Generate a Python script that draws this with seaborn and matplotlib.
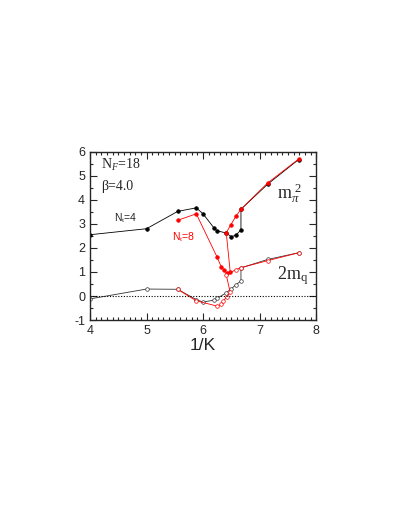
import matplotlib
matplotlib.use("Agg")
import matplotlib.pyplot as plt
import seaborn as sns
import pandas as pd
from matplotlib.ticker import MultipleLocator

# ── Data ─────────────────────────────────────────────────────────────────────
# N_t = 4, m_pi^2 (filled black)
nt4_x_mpi = [4.0, 5.0, 5.55, 5.88, 6.0, 6.2, 6.25, 6.4, 6.5, 6.58, 6.67, 6.67, 7.14, 7.69]
nt4_y_mpi = [2.55, 2.8, 3.52, 3.67, 3.42, 2.81, 2.71, 2.63, 2.47, 2.53, 2.75, 3.61, 4.65, 5.68]
# N_t = 4, 2m_q (open black)
nt4_x_mq = [4.0, 5.0, 5.55, 5.88, 6.0, 6.2, 6.25, 6.4, 6.5, 6.58, 6.67, 6.67, 7.14, 7.69]
nt4_y_mq = [-0.12, 0.29, 0.28, -0.15, -0.25, -0.17, -0.1, 0.12, 0.3, 0.47, 0.62, 1.17, 1.52, 1.8]
# N_t = 8, m_pi^2 (filled red)
nt8_x_mpi = [5.55, 5.88, 6.25, 6.32, 6.37, 6.42, 6.48, 6.41, 6.49, 6.58, 6.67, 7.14, 7.69]
nt8_y_mpi = [3.15, 3.42, 1.61, 1.22, 1.08, 0.95, 1.0, 2.63, 2.96, 3.32, 3.61, 4.7, 5.7]
# N_t = 8, 2m_q (open red)
nt8_x_mq = [5.55, 5.88, 6.25, 6.32, 6.36, 6.42, 6.48, 6.41, 6.58, 6.67, 7.14, 7.69]
nt8_y_mq = [0.28, -0.2, -0.42, -0.35, -0.2, -0.03, 0.15, 0.88, 1.1, 1.18, 1.47, 1.8]

sns.set_style("ticks")
plt.rcParams["font.family"] = ["Liberation Sans", "DejaVu Sans"]
plt.rcParams["axes.unicode_minus"] = False
plt.rcParams["mathtext.fontset"] = "custom"
plt.rcParams["mathtext.rm"] = "Liberation Serif"
plt.rcParams["mathtext.it"] = "Liberation Serif:italic"

fig = plt.figure(figsize=(4.09, 5.29), dpi=100)
ax = fig.add_axes([0.220, 0.395, 0.553, 0.318])

series = [
    (nt4_x_mpi, nt4_y_mpi, "black", "black"),
    (nt4_x_mq, nt4_y_mq, "#333333", "white"),
    (nt8_x_mpi, nt8_y_mpi, "red", "red"),
    (nt8_x_mq, nt8_y_mq, "red", "white"),
]
for xs, ys, col, face in series:
    df = pd.DataFrame({"x": xs, "y": ys})
    sns.lineplot(data=df, x="x", y="y", sort=False, estimator=None, ax=ax,
                 color=col, linewidth=0.6, marker="o", markersize=2.6,
                 markerfacecolor=face, markeredgecolor=col, markeredgewidth=0.5)

ax.axhline(0, color="black", linestyle=(0, (1, 1.5)), linewidth=0.8)

ax.set_xlim(4, 8)
ax.set_ylim(-1, 6)
ax.xaxis.set_major_locator(MultipleLocator(1))
ax.xaxis.set_minor_locator(MultipleLocator(0.1))
ax.yaxis.set_major_locator(MultipleLocator(1))
ax.yaxis.set_minor_locator(MultipleLocator(0.5))
ax.tick_params(which="both", direction="in", top=True, right=True, width=0.8)
ax.tick_params(which="major", length=5, labelsize=9)
ax.tick_params(which="minor", length=2.5)
for s in ax.spines.values():
    s.set_linewidth(1.0)

ax.set_xlabel("1/K", fontsize=12.5, labelpad=1)
ax.set_ylabel("")

serif = ["Liberation Serif", "DejaVu Serif"]
ax.text(4.2, 5.45, r"N$_{F}$=18", fontsize=10, va="center", family=serif)
ax.text(4.2, 4.55, "β=4.0", fontsize=10, va="center", family=serif)
ax.text(4.42, 3.25, r"N$_\mathrm{t}$=4", fontsize=7.5, va="center")
ax.text(5.45, 2.45, r"N$_\mathrm{t}$=8", fontsize=7.5, va="center", color="red")
ax.text(7.3, 4.3, r"$\mathrm{m}_\pi^{\ 2}$", fontsize=13, va="center")
ax.text(7.3, 0.85, r"$\mathrm{2m}_{\mathrm{q}}$", fontsize=13, va="center")

plt.savefig("out.png", dpi=100)
